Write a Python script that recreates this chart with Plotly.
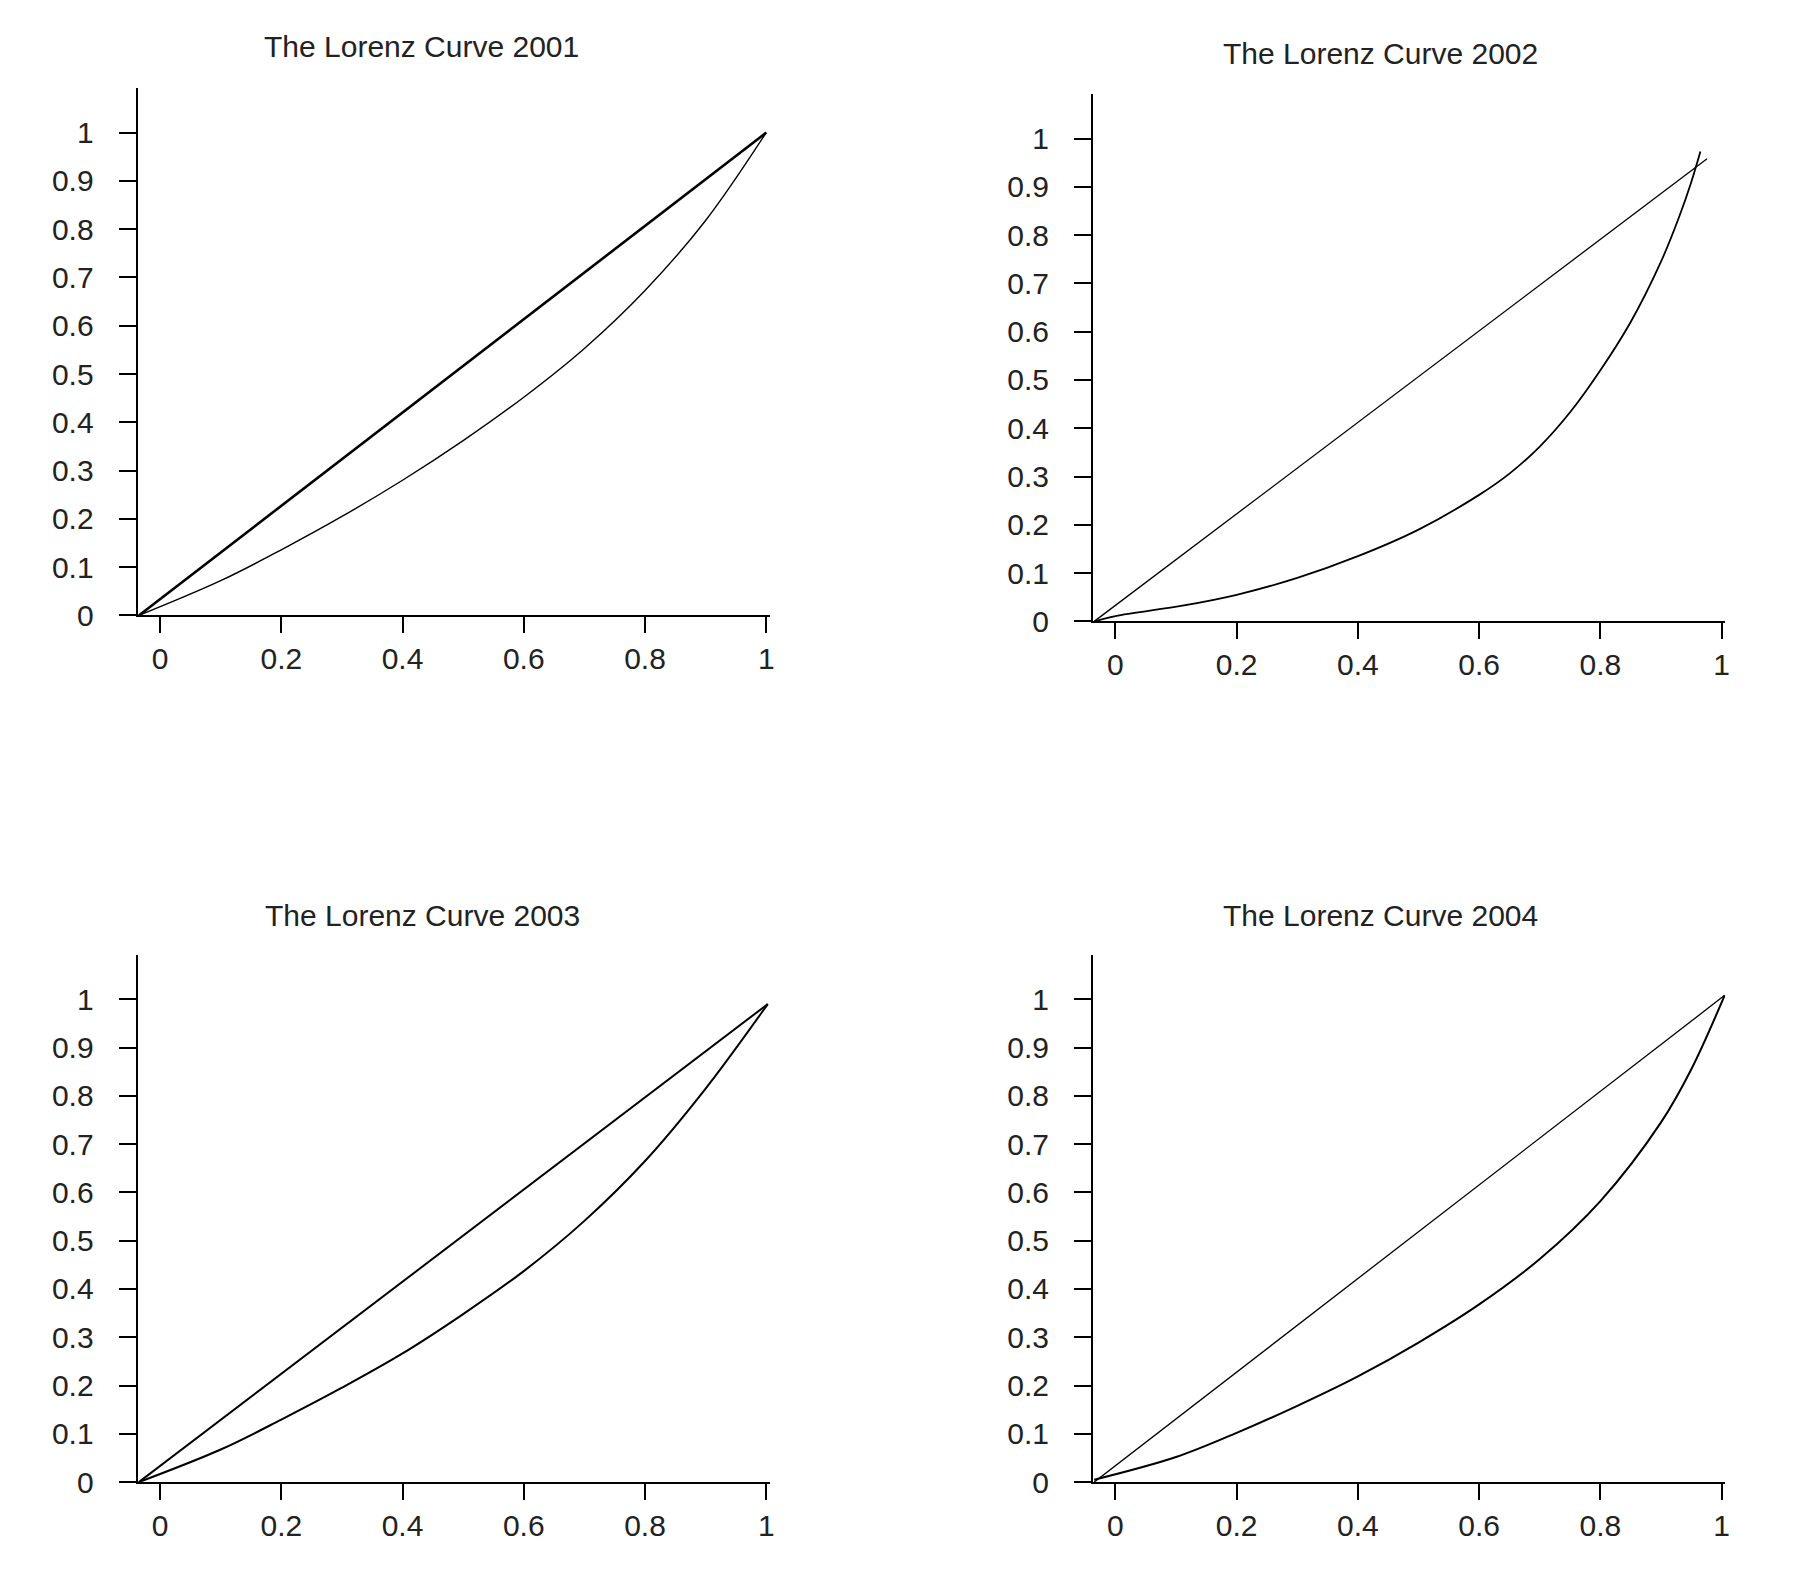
import plotly.graph_objects as go

W, H = 1816, 1595

titles = ["The Lorenz Curve 2001", "The Lorenz Curve 2002",
          "The Lorenz Curve 2003", "The Lorenz Curve 2004"]

# Lorenz curves (cumulative population share -> cumulative income share)
x2001 = [-0.035, 0.1, 0.2, 0.3, 0.4, 0.5, 0.6, 0.7, 0.8, 0.9, 1.0]
y2001 = [0.0, 0.072, 0.136, 0.205, 0.280, 0.362, 0.452, 0.553, 0.673, 0.818, 1.0]

x2002 = [-0.035, 0.0, 0.113, 0.2, 0.3, 0.4, 0.5, 0.6, 0.65, 0.7, 0.75, 0.8, 0.85, 0.9, 0.93, 0.95, 0.965]
y2002 = [0.0, 0.011, 0.033, 0.055, 0.09, 0.135, 0.19, 0.262, 0.306, 0.362, 0.433, 0.52, 0.62, 0.745, 0.838, 0.91, 0.973]

x2003 = [-0.035, 0.1, 0.2, 0.3, 0.4, 0.5, 0.6, 0.7, 0.8, 0.9, 1.0025]
y2003 = [0.0, 0.0675, 0.1295, 0.1955, 0.2665, 0.348, 0.437, 0.541, 0.665, 0.815, 0.99]

x2004 = [-0.035, 0.1, 0.2, 0.3, 0.4, 0.5, 0.6, 0.7, 0.8, 0.9, 0.95, 1.005]
y2004 = [0.005, 0.052, 0.102, 0.158, 0.219, 0.289, 0.368, 0.462, 0.582, 0.745, 0.855, 1.008]

# Line of equality (end points as drawn)
eq2001_x = [-0.035, 1.0]
eq2001_y = [0.0, 1.0]
eq2002_x = [-0.035, 0.976]
eq2002_y = [0.0, 0.958]
eq2003_x = [-0.035, 1.0025]
eq2003_y = [0.0, 0.99]
eq2004_x = [-0.035, 1.005]
eq2004_y = [0.0, 1.008]

xticks = [0, 0.2, 0.4, 0.6, 0.8, 1]
xticklabels = ["0", "0.2", "0.4", "0.6", "0.8", "1"]
yticks = [0, 0.1, 0.2, 0.3, 0.4, 0.5, 0.6, 0.7, 0.8, 0.9, 1]
yticklabels = ["0", "0.1", "0.2", "0.3", "0.4", "0.5", "0.6", "0.7", "0.8", "0.9", "1"]

curves = [(x2001, y2001), (x2002, y2002), (x2003, y2003), (x2004, y2004)]
eqs = [(eq2001_x, eq2001_y), (eq2002_x, eq2002_y), (eq2003_x, eq2003_y), (eq2004_x, eq2004_y)]
eq_widths = [2.6, 1.3, 2.0, 1.3]
curve_widths = [1.4, 1.8, 2.0, 2.0]

# pixel boxes of plot areas: (left, right, top, bottom)
boxes = [(130, 764, 81, 614), (1088, 1722, 87, 620),
         (130, 764, 957, 1490), (1088, 1722, 957, 1490)]
title_pos = [(415, 39), (1376, 46), (416, 917), (1376, 917)]

FONT = "Liberation Sans, Arial, sans-serif"
TXT = "#222222"

fig = go.Figure()
layout = dict(width=W, height=H, margin=dict(l=0, r=0, t=0, b=0),
              paper_bgcolor="white", plot_bgcolor="white", showlegend=False,
              font=dict(family=FONT, size=30, color=TXT))
annotations = []
for i in range(4):
    sfx = "" if i == 0 else str(i + 1)
    xa = "x" + sfx
    ya = "y" + sfx
    cx, cy = curves[i]
    ex, ey = eqs[i]
    fig.add_trace(go.Scatter(x=ex, y=ey, mode="lines", xaxis=xa, yaxis=ya,
                             line=dict(color="black", width=eq_widths[i])))
    fig.add_trace(go.Scatter(x=cx, y=cy, mode="lines", xaxis=xa, yaxis=ya,
                             line=dict(color="black", width=curve_widths[i], shape="spline", smoothing=1.0)))
    l, r, t, b = boxes[i]
    layout["xaxis" + sfx] = dict(domain=[l / W, r / W], anchor=ya, range=[-0.037, 1.006],
                                 showgrid=False, zeroline=False, showline=True, linecolor="black",
                                 linewidth=2, ticks="outside", ticklen=16, tickwidth=2, tickcolor="black",
                                 tickvals=xticks, ticktext=xticklabels,
                                 tickfont=dict(family=FONT, size=30, color=TXT))
    layout["yaxis" + sfx] = dict(domain=[1 - b / H, 1 - t / H], anchor=xa, range=[0, 1.092],
                                 showgrid=False, zeroline=False, showline=True, linecolor="black",
                                 linewidth=2, ticks="outside", ticklen=17, tickwidth=2, tickcolor="black",
                                 tickvals=yticks, ticktext=yticklabels, ticklabelstandoff=19,
                                 tickfont=dict(family=FONT, size=30, color=TXT))
    tx, ty = title_pos[i]
    annotations.append(dict(text=titles[i], x=tx / W, y=1 - ty / H, xref="paper", yref="paper",
                            xanchor="center", yanchor="middle", showarrow=False,
                            font=dict(family=FONT, size=30, color=TXT)))
layout["annotations"] = annotations
fig.update_layout(**layout)
fig.write_html("out.html")
